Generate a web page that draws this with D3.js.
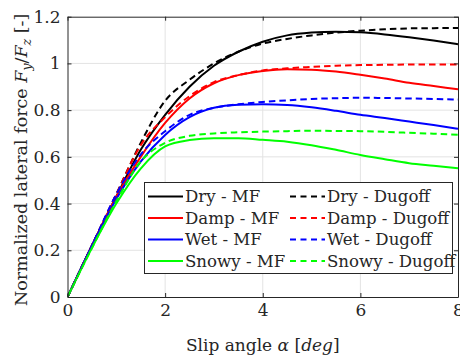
<!DOCTYPE html>
<html>
<head>
<meta charset="utf-8">
<script src="https://cdn.jsdelivr.net/npm/d3@7"></script>
<style>
  body { margin: 0; background: #fff; }
</style>
</head>
<body>
<div id="chart"></div>
<script>
// slip angle samples [deg]
const slip = [0, 0.5, 1, 1.5, 2, 2.5, 3, 3.5, 4, 4.5, 5, 5.5, 6, 6.5, 7, 7.5, 8];

// normalized lateral force Fy/Fz, Magic Formula
const dryMF   = [0, 0.22, 0.43, 0.63, 0.78, 0.90, 0.99, 1.05, 1.093, 1.12, 1.132, 1.136, 1.133, 1.124, 1.112, 1.098, 1.082];
const dampMF  = [0, 0.22, 0.43, 0.60, 0.745, 0.85, 0.915, 0.95, 0.968, 0.975, 0.973, 0.965, 0.951, 0.935, 0.917, 0.903, 0.889];
const wetMF   = [0, 0.22, 0.42, 0.58, 0.694, 0.77, 0.81, 0.823, 0.825, 0.822, 0.812, 0.797, 0.78, 0.766, 0.751, 0.736, 0.72];
const snowyMF = [0, 0.21, 0.40, 0.55, 0.645, 0.672, 0.68, 0.68, 0.673, 0.665, 0.65, 0.63, 0.608, 0.59, 0.573, 0.562, 0.551];

// normalized lateral force Fy/Fz, Dugoff
const dryDug   = [0, 0.22, 0.44, 0.66, 0.84, 0.93, 1.00, 1.05, 1.085, 1.105, 1.12, 1.132, 1.14, 1.146, 1.15, 1.151, 1.152];
const dampDug  = [0, 0.22, 0.44, 0.65, 0.77, 0.86, 0.92, 0.95, 0.97, 0.979, 0.985, 0.99, 0.993, 0.994, 0.995, 0.995, 0.995];
const wetDug   = [0, 0.22, 0.44, 0.61, 0.71, 0.78, 0.81, 0.825, 0.835, 0.842, 0.848, 0.851, 0.853, 0.852, 0.85, 0.848, 0.845];
const snowyDug = [0, 0.21, 0.41, 0.58, 0.66, 0.69, 0.70, 0.705, 0.708, 0.71, 0.712, 0.711, 0.71, 0.707, 0.703, 0.699, 0.695];

const names  = ['Dry - MF', 'Damp - MF', 'Wet - MF', 'Snowy - MF',
                'Dry - Dugoff', 'Damp - Dugoff', 'Wet - Dugoff', 'Snowy - Dugoff'];
const colors = ['#000000', '#ff0000', '#0000ff', '#00ff00'];
const xTicks = [0, 2, 4, 6, 8];
const yTicks = [0, 0.2, 0.4, 0.6, 0.8, 1, 1.2];

const series = [dryMF, dampMF, wetMF, snowyMF, dryDug, dampDug, wetDug, snowyDug]
  .map((vals, i) => ({
    name: names[i],
    color: colors[i % 4],
    dashed: i >= 4,
    points: vals.map((v, j) => [slip[j], v])
  }));

const [W, H] = [460, 361];
const m = { left: 67.5, right: 2, top: 16.7, bottom: 64 };
const FONT = "'DejaVu Serif', serif";
const axisColor = '#262626';

const svg = d3.select('#chart').append('svg')
  .attr('width', W).attr('height', H)
  .attr('font-family', FONT);

const x = d3.scaleLinear().domain([0, 8]).range([m.left, W - m.right]);
const y = d3.scaleLinear().domain([0, 1.2]).range([H - m.bottom, m.top]);

// grid
svg.append('g').selectAll('line').data(xTicks.slice(1, -1)).join('line')
  .attr('x1', d => x(d)).attr('x2', d => x(d))
  .attr('y1', y(0)).attr('y2', y(1.2))
  .attr('stroke', '#e3e3e3').attr('stroke-width', 1);
svg.append('g').selectAll('line').data(yTicks.slice(1, -1)).join('line')
  .attr('x1', x(0)).attr('x2', x(8))
  .attr('y1', d => y(d)).attr('y2', d => y(d))
  .attr('stroke', '#e3e3e3').attr('stroke-width', 1);

// curves
svg.append('clipPath').attr('id', 'clip').append('rect')
  .attr('x', x(0)).attr('y', y(1.2)).attr('width', x(8) - x(0)).attr('height', y(0) - y(1.2));

const line = d3.line().x(d => x(d[0])).y(d => y(d[1])).curve(d3.curveMonotoneX);
svg.append('g').attr('clip-path', 'url(#clip)')
  .selectAll('path').data(series).join('path')
  .attr('d', d => line(d.points))
  .attr('fill', 'none')
  .attr('stroke', d => d.color)
  .attr('stroke-width', 2)
  .attr('stroke-dasharray', d => d.dashed ? '6.5,4' : null);

// axes (box with inward ticks)
const tickLen = 4;
const styleTicks = g => g.attr('font-family', FONT).selectAll('text')
  .attr('font-size', 17).attr('fill', axisColor);
svg.append('g').attr('transform', `translate(0,${y(0)})`)
  .call(d3.axisBottom(x).tickValues(xTicks).tickSizeInner(-tickLen).tickSizeOuter(0).tickPadding(7))
  .call(styleTicks);
svg.append('g').attr('transform', `translate(0,${y(1.2)})`)
  .call(d3.axisTop(x).tickValues(xTicks).tickSizeInner(-tickLen).tickSizeOuter(0).tickFormat(''));
svg.append('g').attr('transform', `translate(${x(0)},0)`)
  .call(d3.axisLeft(y).tickValues(yTicks).tickSizeInner(-tickLen).tickSizeOuter(0).tickPadding(7)
    .tickFormat(d => d === 0 ? '0' : d3.format('~g')(d)))
  .call(styleTicks);
svg.append('g').attr('transform', `translate(${x(8)},0)`)
  .call(d3.axisRight(y).tickValues(yTicks).tickSizeInner(-tickLen).tickSizeOuter(0).tickFormat(''));
svg.selectAll('.domain, .tick line').attr('stroke', axisColor);
svg.selectAll('.domain').attr('stroke-width', 1);

// axis labels
const xl = svg.append('text').attr('x', (x(0) + x(8)) / 2).attr('y', 351)
  .attr('text-anchor', 'middle').attr('font-size', 17).attr('fill', axisColor);
xl.append('tspan').text('Slip angle ');
xl.append('tspan').attr('font-style', 'italic').text('α');
xl.append('tspan').text(' [');
xl.append('tspan').attr('font-style', 'italic').text('deg');
xl.append('tspan').text(']');

const yl = svg.append('text')
  .attr('transform', `translate(27,${(y(0) + y(1.2)) / 2 + 3}) rotate(-90)`)
  .attr('text-anchor', 'middle').attr('font-size', 17.5).attr('fill', axisColor);
yl.append('tspan').text('Normalized lateral force ');
yl.append('tspan').attr('font-style', 'italic').text('F');
yl.append('tspan').attr('font-style', 'italic').attr('font-size', 12.5).attr('dy', 4).text('y');
yl.append('tspan').attr('dy', -4).text('/');
yl.append('tspan').attr('font-style', 'italic').text('F');
yl.append('tspan').attr('font-style', 'italic').attr('font-size', 12.5).attr('dy', 4).text('z');
yl.append('tspan').attr('dy', -4).text(' [-]');

// legend
const lg = svg.append('g');
lg.append('rect').attr('x', 144.5).attr('y', 182.5).attr('width', 308).attr('height', 91)
  .attr('fill', '#fff').attr('stroke', axisColor).attr('stroke-width', 1);
const rowY = i => 196.5 + i * 21.5;
const items = lg.selectAll('g.item').data(series).join('g')
  .attr('transform', (d, i) => `translate(${i < 4 ? 148 : 290},${rowY(i % 4)})`);
items.append('line').attr('x1', 0).attr('x2', 35).attr('y1', 0).attr('y2', 0)
  .attr('stroke', d => d.color).attr('stroke-width', 2)
  .attr('stroke-dasharray', d => d.dashed ? '6,4.5' : null);
items.append('text').attr('x', 37).attr('y', 5.5).attr('font-size', 16.6)
  .attr('fill', axisColor).text(d => d.name);
</script>
</body>
</html>
